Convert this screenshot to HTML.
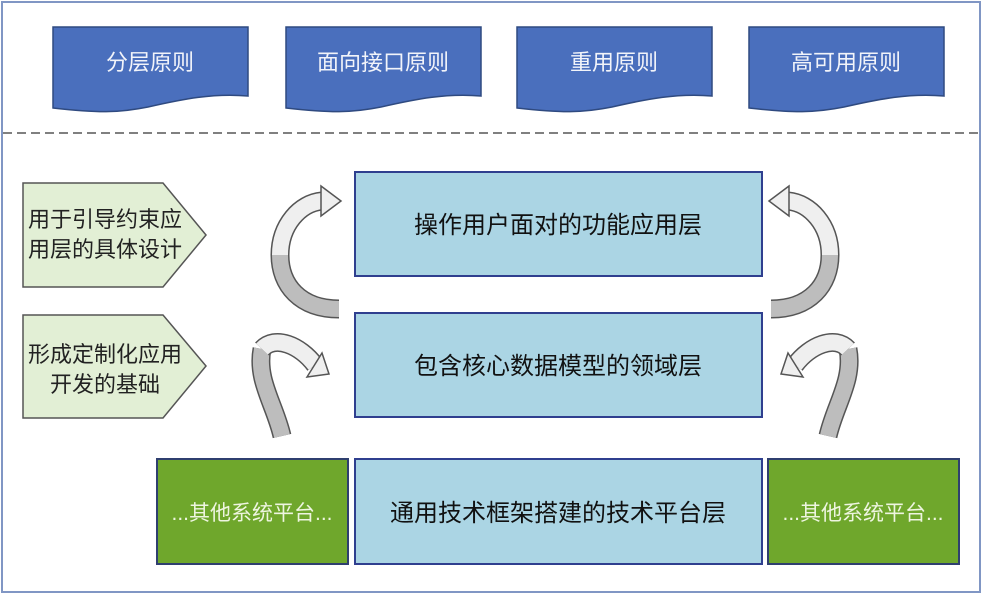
<!DOCTYPE html>
<html><head><meta charset="utf-8"><style>
html,body{margin:0;padding:0;background:#fff;}
svg{display:block;}
text{font-family:"Liberation Sans","Noto Sans CJK SC",sans-serif;}
</style></head><body>
<svg width="983" height="595" viewBox="0 0 983 595" xmlns="http://www.w3.org/2000/svg">
<rect x="2" y="2" width="978" height="590" fill="#fff" stroke="#8096c4" stroke-width="2"/>
<defs>
<path id="doc" d="M0,0 H195 V69 C160,66 130,72 95,80 C65,86 45,86 0,81 Z" fill="#4a6fbd" stroke="#2f4a80" stroke-width="1.5"/>
</defs>
<use href="#doc" x="53" y="27"/>
<use href="#doc" x="286" y="27"/>
<use href="#doc" x="517" y="27"/>
<use href="#doc" x="749" y="27"/>
<g fill="#f2f4fa" font-size="22" text-anchor="middle">
<text x="150" y="70">分层原则</text>
<text x="383" y="70">面向接口原则</text>
<text x="614" y="70">重用原则</text>
<text x="846" y="70">高可用原则</text>
</g>
<line x1="3" y1="133" x2="979" y2="133" stroke="#808080" stroke-width="2" stroke-dasharray="9,5"/>
<polygon points="23,183 163,183 206,235 163,287 23,287" fill="#e2efd5" stroke="#555" stroke-width="1.5"/>
<polygon points="23,315 163,315 206,366 163,418 23,418" fill="#e2efd5" stroke="#555" stroke-width="1.5"/>
<g fill="#222" font-size="22">
<text x="28" y="227">用于引导约束应</text>
<text x="28" y="257">用层的具体设计</text>
<text x="28" y="362">形成定制化应用</text>
<text x="50" y="392">开发的基础</text>
</g>
<g fill="#abd5e4" stroke="#2f3f8f" stroke-width="2">
<rect x="355" y="172" width="407" height="104"/>
<rect x="355" y="313" width="407" height="104"/>
<rect x="355" y="459" width="407" height="105"/>
</g>
<g fill="#6fa72c" stroke="#2f3f6f" stroke-width="2">
<rect x="157" y="459" width="191" height="105"/>
<rect x="768" y="459" width="191" height="105"/>
</g>
<g fill="#111" font-size="24" text-anchor="middle">
<text x="558" y="233">操作用户面对的功能应用层</text>
<text x="558" y="374">包含核心数据模型的领域层</text>
<text x="558" y="521">通用技术框架搭建的技术平台层</text>
</g>
<g fill="#eef5e0" font-size="21" text-anchor="middle">
<text x="252" y="520">...其他系统平台...</text>
<text x="863" y="520">...其他系统平台...</text>
</g>
<g id="arrows">
<path d="M339,309 C300,309 280,285 280,255" fill="none" stroke="#555" stroke-width="19"/>
<path d="M339,309 C300,309 280,285 280,255" fill="none" stroke="#bdbdbd" stroke-width="16"/>
<path d="M280,255 C280,225 300,203 322,201" fill="none" stroke="#555" stroke-width="19"/>
<path d="M280,255 C280,225 300,203 322,201" fill="none" stroke="#efefef" stroke-width="16"/>
<polygon points="321,186 341,201 321,216" fill="#efefef" stroke="#555" stroke-width="1.5"/>
<path d="M282,436 C275,405 256,380 262,349" fill="none" stroke="#555" stroke-width="19"/>
<path d="M282,436 C275,405 256,380 262,349" fill="none" stroke="#bdbdbd" stroke-width="16"/>
<path d="M262,349 C275,335 300,345 315,365" fill="none" stroke="#555" stroke-width="19"/>
<path d="M262,349 C275,335 300,345 315,365" fill="none" stroke="#efefef" stroke-width="16"/>
<polygon points="307,377 329,374 322,353" fill="#efefef" stroke="#555" stroke-width="1.5"/>
</g>
<use href="#arrows" transform="translate(1110,0) scale(-1,1)"/>
</svg>
</body></html>
